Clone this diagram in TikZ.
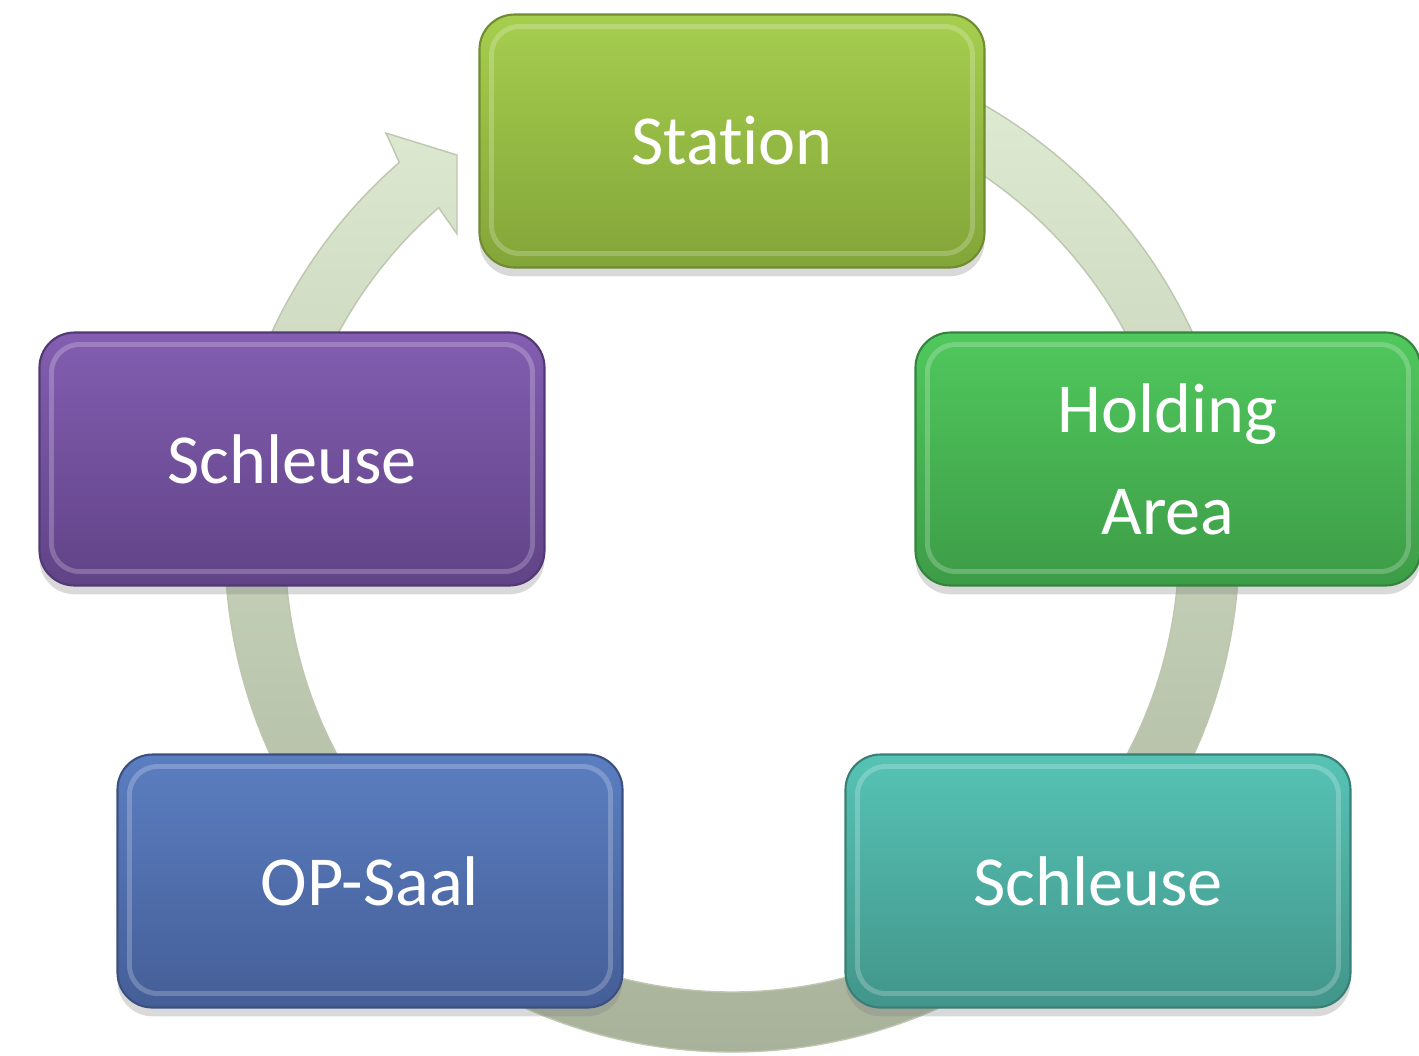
\documentclass[tikz,border=0pt]{standalone}
\usepackage{fontspec}
\setmainfont[Ligatures=NoCommon]{Carlito}
\usetikzlibrary{calc,shadows}

\begin{document}
\begin{tikzpicture}[
        stage/.style={rectangle, rounded corners=0.35cm, minimum width=5.05cm, minimum height=2.53cm,
            text=white, align=center, font=\fontsize{20}{29}\selectfont, line width=0.6pt,
            drop shadow={shadow xshift=0pt, shadow yshift=-2.5pt, opacity=0.3},
            path picture={\draw[white, opacity=0.22, line width=1.4pt, rounded corners=0.28cm]
                ([xshift=0.12cm, yshift=-0.12cm]path picture bounding box.north west) rectangle
                ([xshift=-0.12cm, yshift=0.14cm]path picture bounding box.south east);}},
        ring/.style={top color=ringtop, bottom color=ringbottom, draw=ringedge, line width=0.4pt}
    ]

        \definecolor{ringtop}{HTML}{E2EDD5}
        \definecolor{ringbottom}{HTML}{A8B29A}
        \definecolor{ringedge}{HTML}{BCC7AE}
        \definecolor{stationtop}{HTML}{A6CE4E}
        \definecolor{stationbot}{HTML}{83A539}
        \definecolor{holdingtop}{HTML}{50C85D}
        \definecolor{holdingbot}{HTML}{3D9C47}
        \definecolor{locktop}{HTML}{56C3B5}
        \definecolor{lockbot}{HTML}{42958A}
        \definecolor{optop}{HTML}{5B7EC1}
        \definecolor{opbot}{HTML}{455E97}
        \definecolor{entrytop}{HTML}{835EB1}
        \definecolor{entrybot}{HTML}{614387}

        \useasboundingbox (0,0) rectangle (14.19,-10.55);

        \coordinate (ctr) at (7.32,-5.45);
        \coordinate (barbout) at (3.86,-1.33);
        \coordinate (tipup) at (4.57,-1.55);
        \coordinate (tipdown) at (4.57,-2.34);

        % circular arrow behind the stages
        \path[ring] ($(ctr)+(90:5.07)$) arc[start angle=90, end angle=-229, radius=5.07]
            -- (barbout) -- (tipup) -- (tipdown)
            -- ($(ctr)+(131:4.47)$) arc[start angle=131, end angle=450, radius=4.47] -- cycle;

        \node[stage, top color=stationtop, bottom color=stationbot, draw=stationbot!85!black] (station) at (7.32,-1.41) {Station};
        \node[stage, top color=holdingtop, bottom color=holdingbot, draw=holdingbot!85!black] (holding) at (11.68,-4.59) {Holding\\Area};
        \node[stage, top color=locktop, bottom color=lockbot, draw=lockbot!85!black] (lockout) at (10.98,-8.81) {Schleuse};
        \node[stage, top color=optop, bottom color=opbot, draw=opbot!85!black] (opsaal) at (3.70,-8.81) {OP-Saal};
        \node[stage, top color=entrytop, bottom color=entrybot, draw=entrybot!85!black] (lockin) at (2.92,-4.59) {Schleuse};
    \end{tikzpicture}
\end{document}
